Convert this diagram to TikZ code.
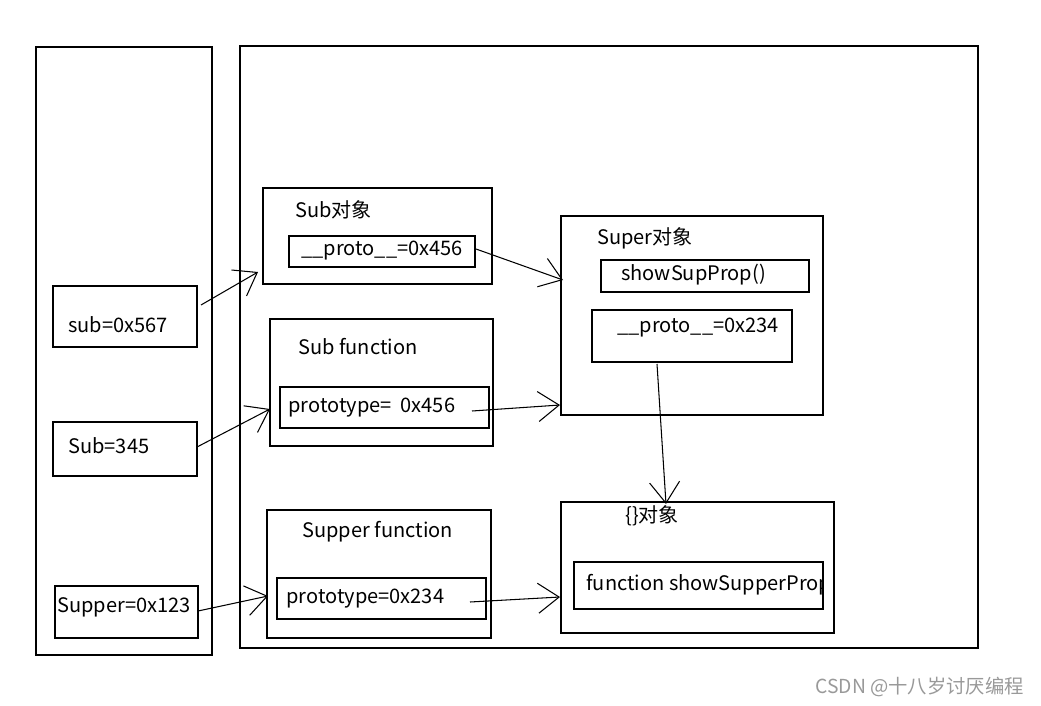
\documentclass[tikz,border=0pt]{standalone}
\usepackage{fontspec}
\setmainfont{Noto Sans CJK SC}
\usetikzlibrary{arrows.meta,positioning,fit}

\tikzset{
	frame/.style={draw, line width=0.7pt, inner sep=0pt},
	txt/.style={anchor=west, inner sep=0pt, font=\fontsize{11.4}{14}\selectfont},
	link/.style={line width=0.6pt, -{Straight Barb[length=0.42cm,width=0.6cm,line width=0.6pt]}},
}

\begin{document}
\begin{tikzpicture}[x=0.02cm, y=-0.02cm]
	\useasboundingbox (0,0) rectangle (1041,706);
	% stack and heap
	\node[frame, fit={(36,47) (212,655)}] (stack) {};
	\node[frame, fit={(240,46) (978,648)}] (heap) {};
	% variables
	\node[frame, fit={(53,286) (197,347)}] (subvar) {};
	\node[txt] (subvartxt) at (68,325) {sub=0x567};
	\node[frame, fit={(53,422) (197,476)}] (subfn) {};
	\node[txt] (subfntxt) at (68,446) {Sub=345};
	\node[frame, fit={(55,586) (198,638)}] (supfn) {};
	\node[txt] (supfntxt) at (57,607) {Supper=0x123};
	% Sub object
	\node[frame, fit={(263,188) (492,284)}] (subobj) {};
	\node[txt] (subobjtxt) at (295,210) {Sub对象};
	\node[frame, fit={(289,236) (475,267)}] (subproto) {};
	\node[txt] (subprototxt) at (301,251) {\_\_proto\_\_=0x456};
	% Sub function
	\node[frame, fit={(270,319) (493,446)}] (subfunc) {};
	\node[txt] (subfunctxt) at (298,347) {Sub function};
	\node[frame, fit={(280,387) (489,428)}] (subptype) {};
	\node[txt] (subptypetxt) at (288,408) {prototype=\ \ 0x456};
	% Supper function
	\node[frame, fit={(267,510) (491,638)}] (supfunc) {};
	\node[txt] (supfunctxt) at (302,532) {Supper function};
	\node[frame, fit={(277,578) (486,619)}] (supptype) {};
	\node[txt] (supptypetxt) at (286,599) {prototype=0x234};
	% Super object
	\node[frame, fit={(561,216) (823,415)}] (supobj) {};
	\node[txt] (supobjtxt) at (597,238) {Super对象};
	\node[frame, fit={(601,260) (809,292)}] (showsup) {};
	\node[txt] (showsuptxt) at (621,275) {showSupProp()};
	\node[frame, fit={(592,310) (792,362)}] (supproto) {};
	\node[txt] (supprototxt) at (617,328) {\_\_proto\_\_=0x234};
	% {} object
	\node[frame, fit={(561,502) (834,633)}] (objobj) {};
	\node[txt] (objobjtxt) at (625,516) {\{\}对象};
	\node[frame, fit={(574,562) (823,609)}] (showsupper) {};
	\begin{scope}
		\clip (showsupper.south west) rectangle (showsupper.north east);
		\node[txt] (showsuppertxt) at (586,585) {function showSupperProp};
	\end{scope}
	% ends of the references
	\coordinate (a1s) at (201,305); \coordinate (a1e) at (258,272);
	\coordinate (a2s) at (197,447); \coordinate (a2e) at (270,409);
	\coordinate (a3s) at (198,611); \coordinate (a3e) at (268,596);
	\coordinate (a4s) at (476,249); \coordinate (a4e) at (563,280);
	\coordinate (a5s) at (472,411); \coordinate (a5e) at (560,405);
	\coordinate (a6s) at (470,602); \coordinate (a6e) at (560,597);
	\coordinate (a7s) at (657,364); \coordinate (a7e) at (666,504);
	\draw[link] (a1s) -- (a1e);
	\draw[link] (a2s) -- (a2e);
	\draw[link] (a3s) -- (a3e);
	\draw[link] (a4s) -- (a4e);
	\draw[link] (a5s) -- (a5e);
	\draw[link] (a6s) -- (a6e);
	\draw[link] (a7s) -- (a7e);
	% watermark
	\node[txt, text=black!40, font=\fontsize{11}{13}\selectfont] (mark) at (815,687) {CSDN @十八岁讨厌编程};
\end{tikzpicture}
\end{document}
